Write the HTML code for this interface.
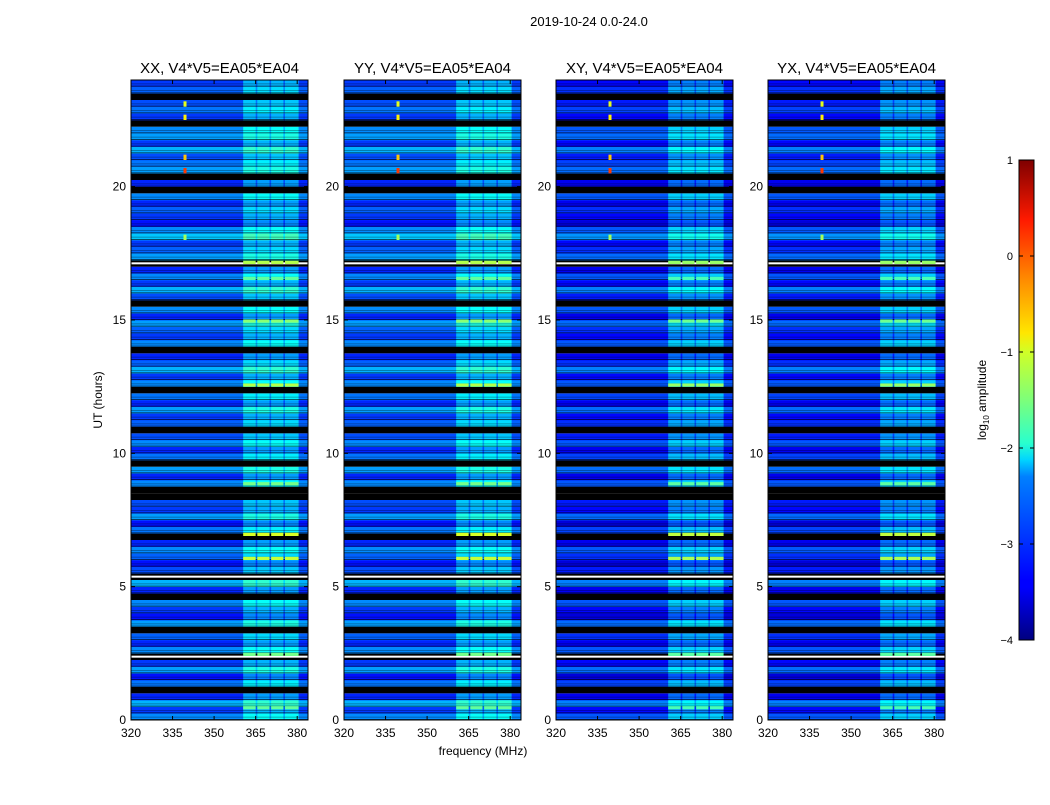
<!DOCTYPE html>
<html><head><meta charset="utf-8"><style>
body{margin:0;background:#fff;}
svg text{font-family:"Liberation Sans","DejaVu Sans",sans-serif;}
</style></head><body>
<svg id="fig" width="1050" height="800" xmlns="http://www.w3.org/2000/svg">
<defs><linearGradient id="jet" x1="0" y1="1" x2="0" y2="0">
<stop offset="0" stop-color="#00007f"/><stop offset="0.11" stop-color="#0000ff"/><stop offset="0.125" stop-color="#0000ff"/>
<stop offset="0.34" stop-color="#0080ff"/><stop offset="0.375" stop-color="#00d4ff"/><stop offset="0.41" stop-color="#29ffce"/>
<stop offset="0.5" stop-color="#7dff7a"/><stop offset="0.6" stop-color="#d0ff27"/><stop offset="0.64" stop-color="#ffe600"/>
<stop offset="0.75" stop-color="#ff8c00"/><stop offset="0.875" stop-color="#ff1a00"/><stop offset="1" stop-color="#7f0000"/>
</linearGradient></defs>
<text x="589" y="26" font-size="13" text-anchor="middle">2019-10-24 0.0-24.0</text>
<g id="panels"></g>
<text x="483" y="755" font-size="12" text-anchor="middle">frequency (MHz)</text>
<text transform="translate(102,400) rotate(-90)" font-size="12" text-anchor="middle">UT (hours)</text>
<g>
<rect x="1019" y="160" width="15" height="480" fill="url(#jet)" stroke="#000" stroke-width="1"/>
</g>
<g id="cbticks"></g>
<text transform="translate(986,400) rotate(-90)" font-size="12" text-anchor="middle">log<tspan font-size="8" dy="3">10</tspan><tspan dy="-3"> amplitude</tspan></text>
</svg>
<script>
// data
const panelTitles = ["XX, V4*V5=EA05*EA04","YY, V4*V5=EA05*EA04","XY, V4*V5=EA05*EA04","YX, V4*V5=EA05*EA04"];
const panelOffsets = [-0.1, -0.1, -0.35, -0.35];
const xTicks = [320,335,350,365,380];
const yTicks = [0,5,10,15,20];
const cbTicks = [1,0,-1,-2,-3,-4];
const cbLabels = ["1","0","\u22121","\u22122","\u22123","\u22124"];
const colEdges = [320,360.5,365,365.6,370,370.6,375,375.6,380.5,384];
const colBoost = [0,0.6,0.2,0.6,0.2,0.6,0.2,0.6,0];
// quarter-hour rows from 0h upward; -9 = flagged (black), 9 = white line
const rowLevels = [
-2.6,-3.0,-2.4,-3.1,-9,-2.7,-3.2,-2.5, -3.0,9,-2.6,-3.1,-2.8,-9,-2.5,-3.2,
-3.0,-2.6,-9,-3.1,-2.4,9,-2.9,-3.2, -2.8,-2.6,-3.1,-9,-2.7,-3.2,-2.5,-3.0,
-2.9,-9,-9,-2.6,-3.1,-2.5,-9,-2.7, -3.1,-2.6,-2.9,-9,-2.8,-3.0,-2.5,-3.1,
-2.7,-9,-2.6,-3.0,-2.4,-2.8,-3.1,-9, -2.6,-3.0,-2.8,-2.5,-3.1,-2.6,-9,-2.9,
-2.4,-3.0,-2.6,-3.1,9,-2.5,-2.8,-3.0, -2.3,-2.6,-3.2,-3.0,-2.8,-3.1,-2.6,-9,
-3.1,-9,-2.5,-2.7,-2.9,-2.4,-3.0,-2.5, -2.6,-9,-3.0,-2.7,-2.9,-9,-2.8,-3.0
];
const brightHours = [0.4,2.4,6.0,6.9,8.8,12.5,14.9,17.1,16.5];
const brightLevel = [-1.6,-1.5,-1.1,-1.0,-1.5,-1.2,-1.4,-1.2,-1.6];
const spikeFreq = 339.5;
const spikeHours = [18.0,20.5,21.0,22.5,23.0];
const spikeLevel = [-1.3,0.1,-0.6,-0.8,-1.0];

// axis functions
const PX=[131,344,556,768], PW=177, PT=80, PH=640;
const XPM=2.77;
const fx=(i,f)=>PX[i]+(f-320)*XPM;
const fy=h=>PT+PH-(h/24)*PH;
function jet(v){let t=(v+4)/5;t=Math.max(0,Math.min(1,t));
 const c=x=>Math.max(0,Math.min(1,1.5-Math.abs(4*t-x)));
 return `rgb(${Math.round(255*c(3))},${Math.round(255*c(2))},${Math.round(255*c(1))})`;}
const NS="http://www.w3.org/2000/svg";
function mk(tag,attrs,parent){const e=document.createElementNS(NS,tag);for(const k in attrs)e.setAttribute(k,attrs[k]);parent.appendChild(e);return e;}
const root=document.getElementById('panels');
const rh=24/rowLevels.length;
for(let p=0;p<4;p++){
 const g=mk('g',{},root);
 
 
 for(let r=0;r<rowLevels.length;r++){
  const y0=fy((r+1)*rh), y1=fy(r*rh); const L=rowLevels[r];
  if(L===-9||L===9){const e=mk('rect',{x:PX[p],y:y0,width:PW,height:y1-y0,fill:'#000'},g);
   
   if(L===9){const w=mk('rect',{x:PX[p],y:(y0+y1)/2-1,width:PW,height:2,fill:'#fff'},g);
    }
   continue;}
  for(let c=0;c<colBoost.length;c++){
   const x0=fx(p,colEdges[c]),x1=Math.min(fx(p,colEdges[c+1]),PX[p]+PW);
   const e=mk('rect',{x:x0,y:y0,width:x1-x0+0.3,height:y1-y0+0.3,fill:jet(L+colBoost[c]+panelOffsets[p])},g);
   
  }
  const s=mk('rect',{x:PX[p],y:y1-1,width:PW,height:1,fill:'#000',opacity:0.6},g);
  
  const s2=mk('rect',{x:PX[p],y:(y0+y1)/2,width:PW,height:1,fill:'#000',opacity:0.3},g);
  
 }
 brightHours.forEach((h,i)=>{for(let c=1;c<8;c+=2){const x0=fx(p,colEdges[c]),x1=fx(p,colEdges[c+1]);
  const e=mk('rect',{x:x0,y:fy(h+0.12),width:x1-x0,height:fy(h)-fy(h+0.12),fill:jet(brightLevel[i]+panelOffsets[p]*0.5)},g);
  }});
 spikeHours.forEach((h,i)=>{const e=mk('rect',{x:fx(p,spikeFreq)-1.5,y:fy(h+0.2),width:3,height:fy(h)-fy(h+0.2),fill:jet(spikeLevel[i])},g);
  });
 const fr=mk('rect',{x:PX[p],y:PT,width:PW,height:PH,fill:'none',stroke:'#000','stroke-width':1},g);
 
 const t=mk('text',{x:PX[p]+PW/2,y:73,'font-size':15,'text-anchor':'middle'},g);t.textContent=panelTitles[p];
 
 xTicks.forEach(v=>{const x=fx(p,v);mk('line',{x1:x,x2:x,y1:PT+PH,y2:PT+PH-4,stroke:'#000'},g);mk('line',{x1:x,x2:x,y1:PT,y2:PT+4,stroke:'#000'},g);
  const l=mk('text',{x:x,y:737,'font-size':12,'text-anchor':'middle'},g);l.textContent=v;
  });
 yTicks.forEach(v=>{const y=fy(v);mk('line',{x1:PX[p],x2:PX[p]+4,y1:y,y2:y,stroke:'#000'},g);mk('line',{x1:PX[p]+PW,x2:PX[p]+PW-4,y1:y,y2:y,stroke:'#000'},g);
  const l=mk('text',{x:PX[p]-5,y:y+4,'font-size':12,'text-anchor':'end'},g);l.textContent=v;
  });
}
const cb=document.getElementById('cbticks');
cbTicks.forEach((v,i)=>{const y=160+(1-v)*96;
 mk('line',{x1:1019,x2:1023,y1:y,y2:y,stroke:'#000'},cb);mk('line',{x1:1030,x2:1034,y1:y,y2:y,stroke:'#000'},cb);
 const l=mk('text',{x:1013,y:y+4,'font-size':11,'text-anchor':'end'},cb);l.textContent=cbLabels[i];
 });
</script>
</body></html>
